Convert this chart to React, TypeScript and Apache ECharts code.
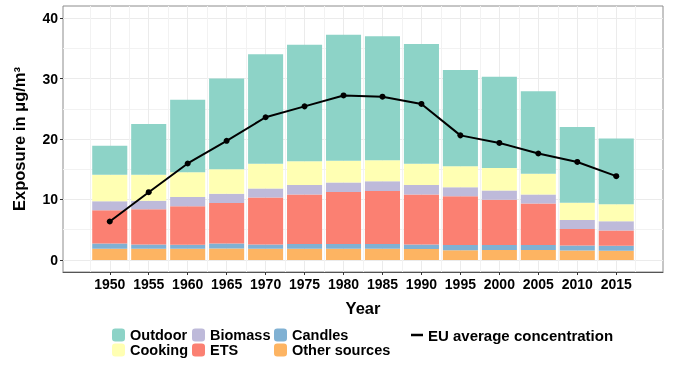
import React, { useEffect, useRef } from "react";
import * as echarts from "echarts";

const years = [1950, 1955, 1960, 1965, 1970, 1975, 1980, 1985, 1990, 1995, 2000, 2005, 2010, 2015];
const otherSources = [1.85, 1.85, 1.85, 1.9, 1.85, 1.85, 1.85, 1.85, 1.8, 1.6, 1.65, 1.65, 1.55, 1.5];
const candles = [0.87, 0.7, 0.67, 0.8, 0.7, 0.8, 0.77, 0.77, 0.75, 0.88, 0.81, 0.81, 0.83, 0.85];
const ets = [5.48, 5.85, 6.35, 6.73, 7.79, 8.15, 8.63, 8.78, 8.25, 8.07, 7.51, 6.86, 2.72, 2.52];
const biomass = [1.5, 1.4, 1.53, 1.52, 1.46, 1.6, 1.55, 1.6, 1.6, 1.45, 1.53, 1.48, 1.5, 1.53];
const cooking = [4.4, 4.3, 4.1, 4.05, 4.1, 3.9, 3.6, 3.5, 3.5, 3.5, 3.7, 3.45, 2.85, 2.8];
const outdoor = [4.8, 8.4, 12.0, 15.0, 18.1, 19.3, 20.85, 20.5, 19.8, 15.9, 15.1, 13.65, 12.55, 10.9];
const euAverage = [6.35, 11.2, 15.95, 19.7, 23.6, 25.4, 27.2, 27.0, 25.8, 20.6, 19.35, 17.6, 16.2, 13.85];
const yTicks = [0, 10, 20, 30, 40];

const FONT = "'Liberation Sans', Arial, Helvetica, sans-serif";

export default function App() {
  const ref = useRef<HTMLDivElement>(null);
  useEffect(() => {
    const chart = echarts.init(ref.current!, null, { renderer: "svg" });
    const xMinor = [...years.map((y) => y - 2.5), years[years.length - 1] + 2.5];
    const yMinor = yTicks.slice(0, -1).map((v) => v + 5);
    const cats = years.map(String);
    // panel geometry: x range 1944..2021 over the panel
    const panelLeft = 63;
    const panelRight = 663;
    const xMin = 1944;
    const xMax = 2021;
    const pxPerYear = (panelRight - panelLeft) / (xMax - xMin);
    const barGridLeft = panelLeft + (xMinor[0] - xMin) * pxPerYear;
    const barGridRight = 673 - (panelLeft + (xMinor[xMinor.length - 1] - xMin) * pxPerYear);

    const barSeries = (name: string, arr: number[], color: string) => ({
      name,
      type: "bar",
      stack: "total",
      xAxisIndex: 2,
      yAxisIndex: 2,
      barWidth: "90%",
      data: arr,
      itemStyle: { color },
    });
    const legendText = { fontSize: 14.5, fontWeight: "bold", color: "#000", fontFamily: FONT, lineHeight: 14.5 };
    const legendBase = {
      orient: "vertical",
      top: 327.5,
      padding: 0,
      itemWidth: 13,
      itemHeight: 13,
      itemGap: 0,
      textStyle: legendText,
      selectedMode: false,
    };
    const option: any = {
      animation: false,
      textStyle: { fontFamily: FONT },
      grid: [
        {
          left: panelLeft,
          right: 673 - panelRight,
          top: 6,
          bottom: 95,
          show: true,
          borderColor: "#8c8c8c",
          borderWidth: 1,
          backgroundColor: "transparent",
        },
        {
          left: barGridLeft,
          right: barGridRight,
          top: 6,
          bottom: 95,
        },
      ],
      legend: [
        { ...legendBase, left: 112, data: ["Outdoor", "Cooking"] },
        { ...legendBase, left: 192, data: ["Biomass", "ETS"] },
        { ...legendBase, left: 274, data: ["Candles", "Other sources"] },
        {
          ...legendBase,
          left: 411,
          itemWidth: 12,
          itemHeight: 2.5,
          icon: "rect",
          textStyle: { ...legendText, fontSize: 15 },
          data: ["EU average concentration"],
        },
      ],
      xAxis: [
        {
          type: "value",
          gridIndex: 0,
          min: xMin,
          max: xMax,
          position: "bottom",
          name: "Year",
          nameLocation: "middle",
          nameGap: 27,
          nameTextStyle: { fontSize: 16.5, fontWeight: "bold", color: "#000", fontFamily: FONT },
          axisLine: { show: true, onZero: false, lineStyle: { color: "#555", width: 1 } },
          axisTick: { show: true, length: 3, customValues: years, lineStyle: { color: "#333" } },
          axisLabel: {
            customValues: years,
            formatter: (v: number) => String(v),
            margin: 5,
            fontSize: 14,
            fontWeight: "bold",
            color: "#000",
            fontFamily: FONT,
          },
          splitLine: { show: true, lineStyle: { color: "#ebebeb", width: 1 } },
        },
        {
          type: "value",
          gridIndex: 0,
          min: xMin,
          max: xMax,
          position: "top",
          axisLine: { show: false },
          axisTick: { show: false, customValues: xMinor },
          axisLabel: { show: false, customValues: xMinor },
          splitLine: { show: true, lineStyle: { color: "#f2f2f2", width: 1 } },
        },
        {
          type: "category",
          gridIndex: 1,
          data: cats,
          show: false,
        },
      ],
      yAxis: [
        {
          type: "value",
          gridIndex: 0,
          min: -2,
          max: 42,
          name: "Exposure in μg/m³",
          nameLocation: "middle",
          nameGap: 36,
          nameTextStyle: { fontSize: 16.5, fontWeight: "bold", color: "#000", fontFamily: FONT },
          axisLine: { show: false },
          axisTick: { show: true, length: 3, customValues: yTicks, lineStyle: { color: "#333" } },
          axisLabel: {
            customValues: yTicks,
            margin: 5,
            fontSize: 14,
            fontWeight: "bold",
            color: "#000",
            fontFamily: FONT,
          },
          splitLine: { show: true, lineStyle: { color: "#ebebeb", width: 1 } },
        },
        {
          type: "value",
          gridIndex: 0,
          min: -2,
          max: 42,
          position: "right",
          axisLine: { show: false },
          axisTick: { show: false, customValues: yMinor },
          axisLabel: { show: false, customValues: yMinor },
          splitLine: { show: true, lineStyle: { color: "#f2f2f2", width: 1 } },
        },
        {
          type: "value",
          gridIndex: 1,
          min: -2,
          max: 42,
          show: false,
          splitLine: { show: false },
        },
      ],
      series: [
        barSeries("Other sources", otherSources, "#fdb462"),
        barSeries("Candles", candles, "#80b1d3"),
        barSeries("ETS", ets, "#fb8072"),
        barSeries("Biomass", biomass, "#bebada"),
        barSeries("Cooking", cooking, "#ffffb3"),
        barSeries("Outdoor", outdoor, "#8dd3c7"),
        {
          name: "EU average concentration",
          type: "line",
          xAxisIndex: 2,
          yAxisIndex: 2,
          data: euAverage,
          z: 5,
          symbol: "circle",
          symbolSize: 6,
          itemStyle: { color: "#000" },
          lineStyle: { color: "#000", width: 2 },
        },
      ],
    };
    chart.setOption(option);
    return () => chart.dispose();
  }, []);
  return <div ref={ref} style={{ position: "fixed", left: 0, top: 0, width: 673, height: 367 }} />;
}
